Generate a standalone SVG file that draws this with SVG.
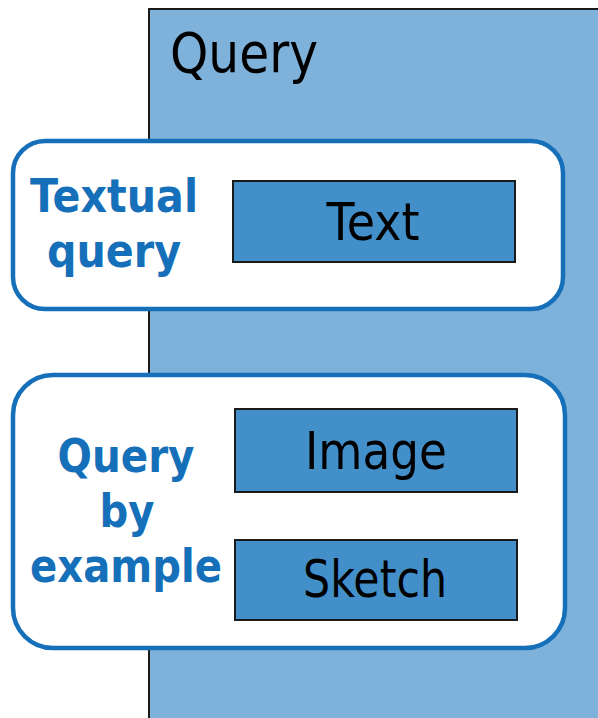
<svg xmlns="http://www.w3.org/2000/svg" width="598" height="718" viewBox="0 0 598 718">
<style>
.panel{fill:#7fb2da;stroke:#1a1a1a;stroke-width:2}
.group{fill:#ffffff;stroke:#1570b9;stroke-width:4.5}
.item{fill:#428fc9;stroke:#1a1a1a;stroke-width:2}
.t{font-family:"DejaVu Sans",Verdana,sans-serif;fill:#000;text-anchor:middle}
.lbl{font-family:"DejaVu Sans",Verdana,sans-serif;font-weight:bold;fill:#1570b9;text-anchor:middle}
</style>
<rect width="598" height="718" fill="#ffffff"/>
<g id="query-panel">
<rect class="panel" x="149" y="9" width="460" height="720"/>
<text class="t" x="244" y="72" font-size="55" textLength="148" lengthAdjust="spacingAndGlyphs">Query</text>
</g>
<g id="textual-query">
<rect class="group" x="13" y="141" width="550" height="168" rx="32"/>
<text class="lbl" x="114" y="212" font-size="46" textLength="168" lengthAdjust="spacingAndGlyphs">Textual</text>
<text class="lbl" x="114" y="267" font-size="46" textLength="134" lengthAdjust="spacingAndGlyphs">query</text>
</g>
<g id="text-node">
<rect class="item" x="233" y="181" width="282" height="81"/>
<text class="t" x="373" y="240" font-size="51" textLength="93" lengthAdjust="spacingAndGlyphs">Text</text>
</g>
<g id="query-by-example">
<rect class="group" x="13" y="375" width="552" height="273" rx="40"/>
<text class="lbl" x="126" y="472" font-size="46" textLength="137" lengthAdjust="spacingAndGlyphs">Query</text>
<text class="lbl" x="127" y="527" font-size="46" textLength="55" lengthAdjust="spacingAndGlyphs">by</text>
<text class="lbl" x="126" y="582" font-size="46" textLength="192" lengthAdjust="spacingAndGlyphs">example</text>
</g>
<g id="image-node">
<rect class="item" x="235" y="409" width="282" height="83"/>
<text class="t" x="376" y="469" font-size="51" textLength="142" lengthAdjust="spacingAndGlyphs">Image</text>
</g>
<g id="sketch-node">
<rect class="item" x="235" y="540" width="282" height="80"/>
<text class="t" x="375" y="597" font-size="51" textLength="144" lengthAdjust="spacingAndGlyphs">Sketch</text>
</g>
<g id="connectors"></g>
</svg>
